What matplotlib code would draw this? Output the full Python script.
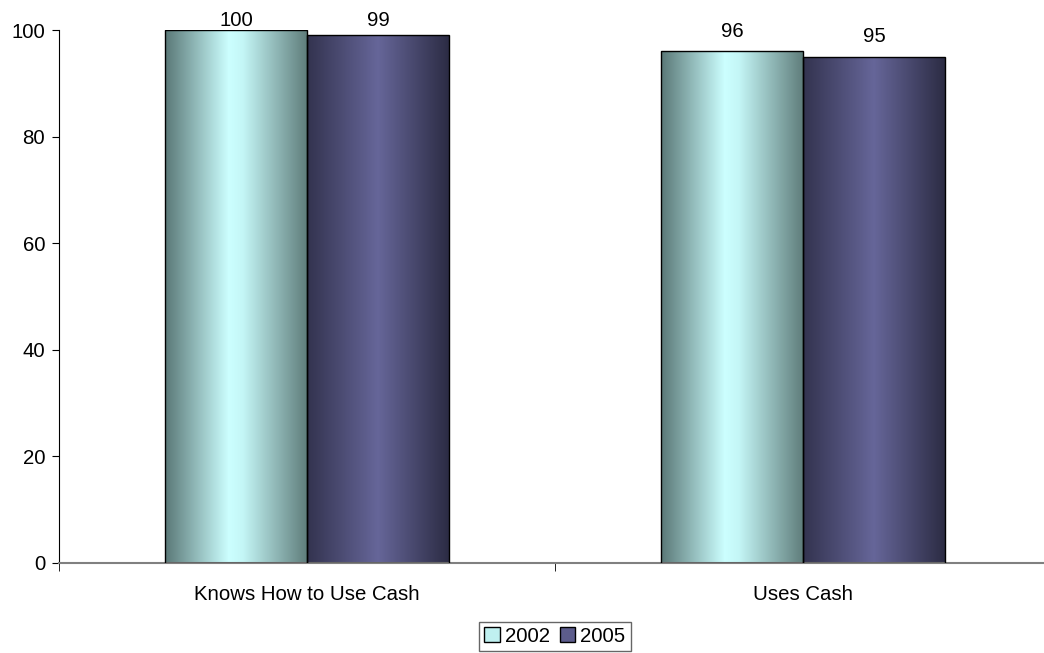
import numpy as np
import matplotlib.pyplot as plt
from matplotlib.colors import LinearSegmentedColormap
from matplotlib.patches import Patch

plt.rcParams['font.family'] = ['Liberation Sans', 'DejaVu Sans']

categories = ['Knows How to Use Cash', 'Uses Cash']
years = ['2002', '2005']
values_2002 = [100, 96]
values_2005 = [99, 95]

# edge -> centre -> edge shading, like the old office gradient fill
cmap_2002 = LinearSegmentedColormap.from_list(
    'c2002', [(0, '#5a7877'), (0.45, '#ccffff'), (0.55, '#c4f6f6'), (1, '#607e7c')])
cmap_2005 = LinearSegmentedColormap.from_list(
    'c2005', [(0, '#33334f'), (0.5, '#666699'), (1, '#2c2c44')])

fig = plt.figure(figsize=(10.44, 6.53), dpi=100)
ax = fig.add_axes([59 / 1044, 90 / 653, 992 / 1044, 533 / 653])

x = np.arange(len(categories))
width = 0.286
fs = 14.7

bars1 = ax.bar(x - width / 2, values_2002, width, facecolor='none', edgecolor='black', linewidth=1, zorder=3)
bars2 = ax.bar(x + width / 2, values_2005, width, facecolor='none', edgecolor='black', linewidth=1, zorder=3)

grad = np.linspace(0, 1, 256).reshape(1, -1)
for bars, cmap in [(bars1, cmap_2002), (bars2, cmap_2005)]:
    for b in bars:
        x0, w, h = b.get_x(), b.get_width(), b.get_height()
        im = ax.imshow(grad, cmap=cmap, extent=[x0, x0 + w, 0, h], aspect='auto', zorder=2)
        im.set_clip_path(b)
    for b in bars:
        # labels sit above the bar but get pushed down near the top edge
        ly = min(b.get_height() + 3.75, 101.8)
        ax.text(b.get_x() + b.get_width() / 2, ly, '%d' % b.get_height(),
                ha='center', va='center', fontsize=fs, clip_on=False)

ax.set_xlim(-0.5, 1.5)
ax.set_ylim(0, 100)
ax.set_yticks([0, 20, 40, 60, 80, 100])
ax.tick_params(axis='y', labelsize=fs, length=5, direction='out', pad=5)

ax.set_xticks(x)
ax.set_xticklabels(categories)
ax.tick_params(axis='x', which='major', length=0, labelsize=fs, pad=15.5)
ax.set_xticks([-0.5, 0.5, 1.5], minor=True)
ax.tick_params(axis='x', which='minor', length=6, direction='out', color='black')

for s in ['top', 'right']:
    ax.spines[s].set_visible(False)
ax.spines['left'].set_color('black')
ax.spines['bottom'].set_color('#808080')
ax.spines['bottom'].set_linewidth(1.5)

handles = [Patch(facecolor='#bff0f0', edgecolor='black', label='2002'),
           Patch(facecolor='#5c5c8c', edgecolor='black', label='2005')]
leg = fig.legend(handles=handles, loc='center', bbox_to_anchor=(555 / 1044, 1 - 636.5 / 653), ncol=2,
                 fontsize=fs, frameon=True, fancybox=False, handlelength=0.75, handleheight=0.75,
                 handletextpad=0.25, columnspacing=0.5, borderpad=0.25, borderaxespad=0)
leg.get_frame().set_edgecolor('#404040')
leg.get_frame().set_linewidth(1)

fig.savefig('out.png', dpi=100)
